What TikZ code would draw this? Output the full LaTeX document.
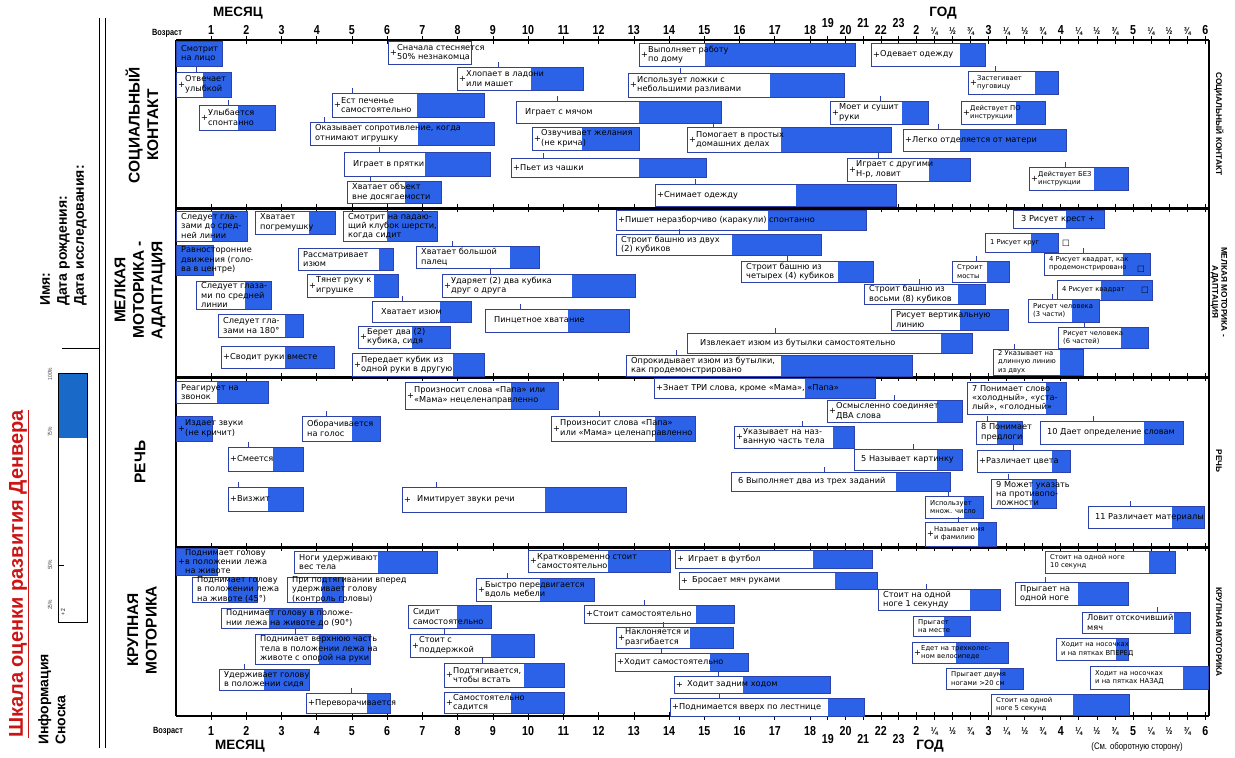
\documentclass[tikz,border=0pt]{standalone}
\usepackage{fontspec}
\setmainfont{DejaVu Sans}
\newfontfamily\condfont[FakeStretch=0.82]{Liberation Sans}
\newfontfamily\headfont{Liberation Sans}
\newfontfamily\itemfont{DejaVu Sans}
\definecolor{dsblue}{RGB}{43,98,232}
\definecolor{dsedge}{RGB}{45,65,170}
\definecolor{legblue}{RGB}{25,105,200}
\definecolor{titlered}{RGB}{205,20,20}
\tikzset{
  boxedge/.style={draw=dsedge, line width=0.8pt},
  itemtext/.style={font=\itemfont\fontsize{8.2}{9.4}\selectfont, align=left, inner sep=0pt, anchor=west, text=black},
  itemsmall/.style={font=\itemfont\fontsize{6.8}{8.2}\selectfont},
  halftick/.style={draw=dsedge, line width=0.6pt},
  axisline/.style={line width=1.4pt},
  sectline/.style={line width=3pt},
  tickmark/.style={line width=0.8pt},
  axisnum/.style={font=\condfont\bfseries\fontsize{13}{13}\selectfont, inner sep=0pt},
  axisfrac/.style={font=\condfont\bfseries\fontsize{10}{10}\selectfont, inner sep=0pt},
  axisword/.style={font=\headfont\bfseries\fontsize{13.5}{13.5}\selectfont, inner sep=0pt},
  agelabel/.style={font=\condfont\bfseries\fontsize{9}{9}\selectfont, inner sep=0pt},
  sectleft/.style={font=\headfont\bfseries\fontsize{15.5}{18.5}\selectfont, align=center, rotate=90, inner sep=0pt},
  sectright/.style={font=\headfont\bfseries\fontsize{8.3}{9}\selectfont, align=center, rotate=-90, inner sep=0pt},
  panelword/.style={font=\headfont\bfseries\fontsize{14}{17}\selectfont, align=left, rotate=90, inner sep=0pt},
  pct/.style={font=\condfont\fontsize{6}{6}\selectfont, rotate=90, inner sep=0pt, text=black!70},
}
\newcounter{dsitem}
% one test item: white part, blue part (75-90%), frame and the 50% tick
\newcommand\dsbox[6]{%
  \fill[white] (#1,#4) rectangle (#2,#5);
  \fill[dsblue] (#2,#4) rectangle (#3,#5);
  \draw[boxedge] (#1,#4) rectangle (#3,#5);
  \ifnum#6>0 \draw[halftick] (#6,#4) -- ++(0,-5);\fi
}
\newcommand\dsitem[8][]{%
  \dsbox{#2}{#3}{#4}{#5}{#6}{#7}%
  \stepcounter{dsitem}%
  \node[itemtext,#1,name=item\arabic{dsitem}] at ({#2+5},{(#5+#6)/2}) {#8};
}
\newcommand\dsitemp[8][]{%
  \dsbox{#2}{#3}{#4}{#5}{#6}{#7}%
  \stepcounter{dsitem}%
  \node[itemtext,name=plus\arabic{dsitem}] at ({#2+2},{(#5+#6)/2}) {+};
  \node[itemtext,#1,name=item\arabic{dsitem}] at ({#2+9},{(#5+#6)/2}) {#8};
}
\begin{document}
\begin{tikzpicture}[x=1pt,y=-1pt]
\useasboundingbox (0,0) rectangle (1235,758);
\fill[white] (0,0) rectangle (1235,758);

% ---------- left panel ----------
\draw[line width=1pt] (99,18) -- (99,748);
\draw[line width=1pt] (105,18) -- (105,748);
\node[rotate=90, text=titlered, font=\headfont\bfseries\fontsize{20}{20}\selectfont, inner sep=0pt] (title) at (19,574) {\underline{Шкала оценки развития Денвера}};
\node[panelword, anchor=north west] (info) at (38,745) {Информация\\Сноска};
\node[panelword, anchor=north west] (namefields) at (40,306) {Имя:\\Дата рождения:\\Дата исследования:};
\draw[line width=0.8pt] (62,348) -- (99,348);
\draw[line width=0.9pt, fill=white] (58,373) rectangle (87,622);
\fill[legblue] (58.5,373.5) rectangle (86.5,438);
\draw[line width=0.9pt] (58,373) rectangle (87,622);
\draw[line width=0.6pt] (58,565) -- (64,565);
\node[font=\condfont\fontsize{6}{6}\selectfont, rotate=90, inner sep=0pt] (legmark) at (63,612) {+ 2};
\node[pct] (p100) at (50,374) {100\%};
\node[pct] (p75) at (50,432) {75\%};
\node[pct] (p50) at (50,565) {50\%};
\node[pct] (p25) at (50,605) {25\%};

% ---------- section names ----------
\node[sectleft] (sl1) at (142,125) {СОЦИАЛЬНЫЙ\\КОНТАКТ};
\node[sectleft] (sl2) at (140,290) {МЕЛКАЯ\\МОТОРИКА -\\АДАПТАЦИЯ};
\node[sectleft] (sl3) at (140,462) {РЕЧЬ};
\node[sectleft] (sl4) at (142,630) {КРУПНАЯ\\МОТОРИКА};
\node[sectright] (sr1) at (1219,124) {СОЦИАЛЬНЫЙ КОНТАКТ};
\node[sectright] (sr2) at (1219,292) {МЕЛКАЯ МОТОРИКА -\\АДАПТАЦИЯ};
\node[sectright] (sr3) at (1219,461) {РЕЧЬ};
\node[sectright] (sr4) at (1219,632) {КРУПНАЯ МОТОРИКА};

% ---------- age scales ----------
\node[axisword] (monthtop) at (238,13) {МЕСЯЦ};
\node[axisword] (yeartop) at (943,13) {ГОД};
\node[agelabel] (agetop) at (167,33) {Возраст};
\node[axisword] (monthbot) at (240,746) {МЕСЯЦ};
\node[axisword] (yearbot) at (930,746) {ГОД};
\node[agelabel] (agebot) at (168,731) {Возраст};
\node[font=\condfont\fontsize{9.5}{9.5}\selectfont, inner sep=0pt] (seeback) at (1137,747) {(См. оборотную сторону)};
\foreach \n in {1,...,18}{
  \node[axisnum, name=tm\n] at ({211+(\n-1)*35.24},30) {\n};
  \node[axisnum, name=bm\n] at ({211+(\n-1)*35.24},731) {\n};
}
\foreach \n/\x/\yt/\yb in {19/827.8/23/739, 20/845.5/30/731, 21/863.2/23/739, 22/880.9/30/731, 23/898.6/23/739}{
  \node[axisnum, name=tm\n] at (\x,\yt) {\n};
  \node[axisnum, name=bm\n] at (\x,\yb) {\n};
}
\foreach \t/\q in {2/0,3/4,4/8,5/12,6/16}{
  \node[axisnum, name=ty\q] at ({916.3+\q*18.06},30) {\t};
  \node[axisnum, name=by\q] at ({916.3+\q*18.06},731) {\t};
}
\foreach \t/\q in {¼/1,½/2,¾/3,¼/5,½/6,¾/7,¼/9,½/10,¾/11,¼/13,½/14,¾/15}{
  \node[axisfrac, name=ty\q] at ({916.3+\q*18.06},31) {\t};
  \node[axisfrac, name=by\q] at ({916.3+\q*18.06},731) {\t};
}

% ---------- frame, section rules and ticks ----------
\draw[line width=1.2pt] (176,40) -- (176,716);
\draw[line width=1.2pt] (1209,40) -- (1209,716);
\draw[axisline] (176,40) -- (1209,40);
\draw[axisline] (176,716) -- (1209,716);
\foreach \y in {208,377,547}{ \draw[sectline] (176,\y) -- (1209,\y); }
\foreach \y in {40,208,377,547,716}{
  \foreach \x in {211,246.2,281.5,316.7,352.0,387.2,422.4,457.7,492.9,528.2,563.4,598.6,633.9,669.1,704.4,739.6,774.8,810.1,827.8,845.5,863.2,880.9,898.6,916.3,934.4,952.4,970.5,988.5,1006.6,1024.7,1042.7,1060.8,1078.8,1096.9,1115.0,1133.0,1151.1,1169.1,1187.2,1205.3}{
    \draw[tickmark] (\x,\y-4) -- (\x,\y+4);
  }
}

% ---------- social contact ----------
\dsitem{176}{176}{222}{41}{66}{0}{Смотрит\\на лицо}
\dsitemp{176}{203}{231}{72}{97}{196}{Отвечает\\улыбкой}
\dsitemp{199}{238}{275}{105}{130}{228}{Улыбается\\спонтанно}
\dsitemp{388}{471}{471}{41}{64}{0}{Сначала стесняется\\50\% незнакомца}
\dsitemp{457}{531}{583}{67}{90}{498}{Хлопает в ладони\\или машет}
\dsitemp{332}{417}{484}{93}{117}{352}{Ест печенье\\самостоятельно}
\dsitem{310}{418}{494}{122}{145}{324}{Оказывает сопротивление, когда\\отнимают игрушку}
\dsitem[xshift=4pt]{344}{425}{490}{152}{176}{379}{Играет в прятки}
\dsitem{347}{405}{441}{181}{203}{370}{Хватает объект\\вне досягаемости}
\dsitem[xshift=4pt]{516}{639}{721}{101}{123}{557}{Играет с мячом}
\dsitemp{532}{582}{639}{127}{150}{0}{Озвучивает желания\\(не крича)}
\dsitemp{511}{639}{706}{158}{177}{543}{Пьет из чашки}
\dsitemp{639}{705}{855}{43}{66}{0}{Выполняет работу\\по дому}
\dsitemp{628}{770}{844}{73}{97}{680}{Использует ложки с\\небольшими разливами}
\dsitemp{687}{781}{891}{127}{152}{713}{Помогает в простых\\домашних делах}
\dsitemp{655}{796}{896}{184}{206}{695}{Снимает одежду}
\dsitemp{871}{960}{985}{43}{66}{0}{Одевает одежду}
\dsitemp{830}{902}{928}{101}{124}{880}{Моет и сушит\\руки}
\dsitemp{903}{960}{1066}{129}{151}{938}{Легко отделяется от матери}
\dsitemp{847}{929}{970}{158}{181}{878}{Играет с другими\\Н-р, ловит}
\dsitemp[itemsmall]{968}{1035}{1058}{71}{94}{995}{Застегивает\\пуговицу}
\dsitemp[itemsmall]{961}{1016}{1045}{101}{124}{0}{Действует ПО\\инструкции}
\dsitemp[itemsmall]{1029}{1094}{1128}{167}{190}{1065}{Действует БЕЗ\\инструкции}

% ---------- fine motor - adaptive ----------
\dsitem{176}{212}{247}{211}{241}{0}{Следует гла-\\зами до сред-\\ней линии}
\dsitem{255}{309}{335}{211}{234}{0}{Хватает\\погремушку}
\dsitem{343}{387}{437}{211}{241}{0}{Смотрит на падаю-\\щий клубок шерсти,\\когда сидит}
\dsitem{176}{176}{213}{245}{275}{0}{Равносторонние\\движения (голо-\\ва в центре)}
\dsitem{196}{245}{271}{281}{309}{0}{Следует глаза-\\ми по средней\\линии}
\dsitem{218}{285}{303}{314}{337}{0}{Следует гла-\\зами на 180°}
\dsitemp{221}{285}{334}{346}{368}{0}{Сводит руки вместе}
\dsitem{298}{379}{393}{248}{270}{0}{Рассматривает\\изюм}
\dsitemp{307}{374}{398}{274}{297}{0}{Тянет руку к\\игрушке}
\dsitem[xshift=4pt]{372}{440}{471}{301}{322}{402}{Хватает изюм}
\dsitemp{358}{412}{450}{326}{348}{0}{Берет два (2)\\кубика, сидя}
\dsitemp{352}{453}{484}{353}{376}{0}{Передает кубик из\\одной руки в другую}
\dsitem{416}{510}{539}{246}{268}{452}{Хватает большой\\палец}
\dsitemp{442}{572}{635}{274}{297}{490}{Ударяет (2) два кубика\\друг о друга}
\dsitem[xshift=4pt]{485}{568}{629}{309}{332}{520}{Пинцетное хватание}
\dsitemp{616}{768}{866}{210}{230}{0}{Пишет неразборчиво (каракули) спонтанно}
\dsitem{616}{732}{821}{234}{255}{679}{Строит башню из двух\\(2) кубиков}
\dsitem{741}{838}{873}{261}{282}{787}{Строит башню из\\четырех (4) кубиков}
\dsitem{864}{958}{985}{284}{304}{919}{Строит башню из\\восьми (8) кубиков}
\dsitem{891}{960}{1008}{309}{330}{0}{Рисует вертикальную\\линию}
\dsitem[xshift=8pt]{687}{941}{972}{333}{353}{775}{Извлекает изюм из бутылки самостоятельно}
\dsitem{626}{781}{912}{355}{376}{676}{Опрокидывает изюм из бутылки,\\как продемонстрировано}
\dsitem[itemsmall]{952}{987}{1009}{261}{282}{976}{Строит\\мосты}
\dsitem[xshift=3pt]{1013}{1066}{1104}{210}{228}{0}{3 Рисует крест +}
\dsitem[itemsmall]{985}{1031}{1058}{233}{252}{0}{1 Рисует круг}
\node[itemtext, name=circlemark] at (1062,243) {□};
\dsitem[itemsmall]{1044}{1123}{1150}{253}{275}{1083}{4 Рисует квадрат, как\\продемонстрировано}
\node[itemtext, name=squaremarkA] at (1137,269) {□};
\dsitem[itemsmall]{1057}{1101}{1152}{280}{300}{0}{4 Рисует квадрат}
\node[itemtext, name=squaremarkB] at (1141,290) {□};
\dsitem[itemsmall]{1028}{1072}{1099}{299}{322}{1052}{Рисует человека\\(3 части)}
\dsitem[itemsmall]{1058}{1121}{1148}{327}{348}{1084}{Рисует человека\\(6 частей)}
\dsitem[itemsmall]{993}{1060}{1083}{349}{375}{1014}{2 Указывает на\\длинную линию\\из двух}

% ---------- language ----------
\dsitem{176}{217}{268}{381}{403}{0}{Реагирует на\\звонок}
\dsitemp{176}{176}{212}{416}{441}{0}{Издает звуки\\(не кричит)}
\dsitem{302}{352}{380}{416}{441}{326}{Оборачивается\\на голос}
\dsitemp{228}{273}{303}{447}{471}{248}{Смеется}
\dsitemp{228}{268}{303}{487}{511}{238}{Визжит}
\dsitemp{405}{511}{558}{382}{409}{0}{Произносит слова «Папа» или\\«Мама» нецеленаправленно}
\dsitemp[xshift=6pt]{402}{545}{626}{487}{512}{436}{Имитирует звуки речи}
\dsitemp{551}{655}{695}{416}{441}{599}{Произносит слова «Папа»\\или «Мама» целенаправленно}
\dsitemp{654}{805}{875}{378}{398}{0}{Знает ТРИ слова, кроме «Мама», «Папа»}
\dsitemp{827}{937}{962}{400}{422}{894}{Осмысленно соединяет\\ДВА слова}
\dsitemp{734}{833}{854}{426}{448}{802}{Указывает на наз-\\ванную часть тела}
\dsitem[xshift=2pt]{854}{937}{962}{449}{470}{913}{5 Называет картинку}
\dsitem[xshift=2pt]{731}{896}{950}{472}{491}{824}{6 Выполняет два из трех заданий}
\dsitem[itemsmall]{925}{964}{983}{496}{518}{948}{Использует\\множ. число}
\dsitemp[itemsmall]{925}{978}{996}{522}{546}{958}{Называет имя\\и фамилию}
\dsitem{967}{1046}{1066}{382}{414}{0}{7 Понимает слово\\«холодный», «уста-\\лый», «голодный»}
\dsitem{976}{997}{1022}{421}{444}{987}{8 Понимает\\предлоги}
\dsitemp{977}{1052}{1070}{450}{472}{1013}{Различает цвета}
\dsitem{991}{1032}{1056}{479}{508}{1008}{9 Может указать\\на противопо-\\ложности}
\dsitem[xshift=2pt]{1040}{1144}{1183}{421}{444}{1093}{10 Дает определение словам}
\dsitem[xshift=2pt]{1088}{1172}{1204}{506}{528}{1130}{11 Различает материалы}

% ---------- gross motor ----------
\dsitemp{176}{176}{217}{548}{575}{0}{Поднимает голову\\в положении лежа\\на животе}
\dsitem{192}{228}{257}{577}{602}{0}{Поднимает голову\\в положении лежа\\на животе (45°)}
\dsitem{287}{322}{343}{577}{602}{0}{При подтягивании вперед\\удерживает голову\\(контроль головы)}
\dsitem{294}{378}{437}{551}{573}{0}{Ноги удерживают\\вес тела}
\dsitem{221}{269}{322}{608}{628}{0}{Поднимает голову в положе-\\нии лежа на животе до (90°)}
\dsitem{255}{319}{370}{634}{664}{295}{Поднимает верхнюю часть\\тела в положении лежа на\\животе с опорой на руки}
\dsitem{219}{264}{309}{669}{690}{244}{Удерживает голову\\в положении сидя}
\dsitemp{306}{367}{390}{693}{713}{351}{Переворачивается}
\dsitem{408}{457}{491}{605}{628}{0}{Сидит\\самостоятельно}
\dsitemp{410}{491}{534}{634}{657}{444}{Стоит с\\поддержкой}
\dsitemp{444}{524}{564}{663}{687}{482}{Подтягивается,\\чтобы встать}
\dsitemp{444}{511}{564}{692}{713}{0}{Самостоятельно\\садится}
\dsitemp{476}{540}{594}{578}{601}{507}{Быстро передвигается\\вдоль мебели}
\dsitemp{528}{608}{670}{550}{572}{0}{Кратковременно стоит\\самостоятельно}
\dsitemp{584}{696}{734}{605}{623}{644}{Стоит самостоятельно}
\dsitemp{616}{690}{733}{627}{648}{663}{Наклоняется и\\разгибается}
\dsitemp{615}{710}{748}{653}{671}{661}{Ходит самостоятельно}
\dsitemp[xshift=4pt]{674}{743}{830}{676}{693}{718}{Ходит задним ходом}
\dsitemp{670}{828}{864}{698}{716}{719}{Поднимается вверх по лестнице}
\dsitemp[xshift=4pt]{675}{813}{872}{550}{568}{0}{Играет в футбол}
\dsitemp[xshift=4pt]{679}{835}{877}{572}{589}{0}{Бросает мяч руками}
\dsitem{878}{970}{1000}{589}{610}{926}{Стоит на одной\\ноге 1 секунду}
\dsitem[itemsmall]{913}{944}{970}{616}{636}{0}{Прыгает\\на месте}
\dsitemp[itemsmall]{912}{956}{1008}{642}{663}{0}{Едет на трехколес-\\ном велосипеде}
\dsitem[itemsmall]{946}{1000}{1023}{668}{689}{0}{Прыгает двумя\\ногами >20 см}
\dsitem[itemsmall]{991}{1073}{1129}{694}{715}{0}{Стоит на одной\\ноге 5 секунд}
\dsitem[itemsmall]{1045}{1149}{1175}{551}{573}{0}{Стоит на одной ноге\\10 секунд}
\dsitem{1015}{1078}{1128}{582}{605}{1045}{Прыгает на\\одной ноге}
\dsitem{1082}{1174}{1190}{612}{633}{1157}{Ловит отскочивший\\мяч}
\dsitem[itemsmall]{1056}{1116}{1128}{638}{660}{0}{Ходит на носочках\\и на пятках ВПЕРЕД}
\dsitem[itemsmall]{1090}{1183}{1208}{666}{689}{0}{Ходит на носочках\\и на пятках НАЗАД}
\end{tikzpicture}
\end{document}
